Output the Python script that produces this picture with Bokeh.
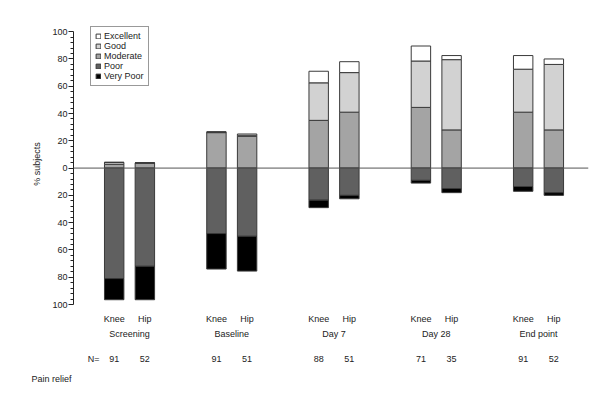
from bokeh.plotting import figure
from bokeh.models import (Range1d, FixedTicker, Span, Legend, LegendItem,
                          ColumnDataSource, LinearAxis, Title)
from bokeh.embed import file_html
from bokeh.resources import INLINE

# ---- data ----
groups = ["Screening", "Baseline", "Day 7", "Day 28", "End point"]
joints = ["Knee", "Hip"]
n_values = [91, 52, 91, 51, 88, 51, 71, 35, 91, 52]
# positive side (stacked upward): Moderate, Good, Excellent
moderate = [2.8, 3.8, 26.0, 23.3, 35.0, 41.0, 44.5, 28.0, 41.0, 28.0]
good = [1.4, 0.0, 0.5, 0.8, 27.5, 29.0, 34.0, 51.5, 31.5, 48.0]
excellent = [0.0, 0.0, 0.0, 0.9, 8.5, 8.0, 11.0, 3.0, 10.0, 4.0]
# negative side (stacked downward): Poor, Very Poor
poor = [81.0, 72.0, 48.0, 50.0, 23.5, 20.0, 9.0, 15.0, 13.5, 18.0]
very_poor = [15.5, 24.5, 26.0, 25.5, 5.5, 2.5, 2.0, 3.0, 3.5, 2.0]

FONT = "Liberation Sans"
TXT = "#222222"

# bar positions: group index +/- offset for Knee / Hip
xs = []
joint_labels = []
for gi, g in enumerate(groups):
    for ji, j in enumerate(joints):
        xs.append(gi + (-0.15 if ji == 0 else 0.15))
        joint_labels.append(j)
N_POS = -0.352

src = ColumnDataSource(dict(
    x=xs,
    moderate=moderate, good=good, excellent=excellent,
    poor=[-v for v in poor], very_poor=[-v for v in very_poor],
))

W, H = 596, 400
p = figure(width=W, height=H,
           x_range=Range1d(-0.548, 4.489), y_range=Range1d(-100, 106),
           output_backend="svg", toolbar_location=None,
           min_border_left=73, min_border_right=W - 588,
           min_border_top=23, min_border_bottom=H - 304)
p.grid.visible = False
p.outline_line_color = None
p.background_fill_color = "white"

col_exc = "#ffffff"
col_good = "#d2d2d2"
col_mod = "#a4a4a4"
col_poor = "#606060"
col_vp = "#000000"
edge = "#3a3a3a"

pos = p.vbar_stack(["moderate", "good", "excellent"], x="x", width=0.19, source=src,
                   fill_color=[col_mod, col_good, col_exc], line_color=edge, line_width=1)
neg = p.vbar_stack(["poor", "very_poor"], x="x", width=0.19, source=src,
                   fill_color=[col_poor, col_vp], line_color=edge, line_width=1)

p.add_layout(Span(location=0, dimension="width", line_color="#555555", line_width=1))

# y axis
major = list(range(-100, 101, 20))
minor = [v for v in range(-100, 101, 4) if v not in major]
p.yaxis.ticker = FixedTicker(ticks=major, minor_ticks=minor)
p.yaxis.major_label_overrides = {v: str(abs(v)) for v in major}
p.yaxis.bounds = (-100, 100)
p.yaxis.axis_line_color = TXT
p.yaxis.major_tick_line_color = TXT
p.yaxis.minor_tick_line_color = TXT
p.yaxis.major_tick_in = 0
p.yaxis.major_tick_out = 5
p.yaxis.minor_tick_in = 0
p.yaxis.minor_tick_out = 3
p.yaxis.major_label_standoff = 1
p.yaxis.major_label_text_font = FONT
p.yaxis.major_label_text_font_size = "9px"
p.yaxis.major_label_text_color = TXT
p.yaxis.axis_label = "% subjects"
p.yaxis.axis_label_text_font = FONT
p.yaxis.axis_label_text_font_size = "9px"
p.yaxis.axis_label_text_font_style = "normal"
p.yaxis.axis_label_text_color = TXT
p.yaxis.axis_label_standoff = 7


def style_text_axis(ax, standoff):
    ax.axis_line_color = None
    ax.major_tick_line_color = None
    ax.minor_tick_line_color = None
    ax.major_tick_out = 0
    ax.major_tick_in = 0
    ax.minor_tick_out = 0
    ax.minor_tick_in = 0
    ax.major_label_standoff = standoff
    ax.major_label_text_font = FONT
    ax.major_label_text_font_size = "9px"
    ax.major_label_text_color = TXT


# x axis row 1: Knee / Hip
ax1 = p.xaxis[0]
ax1.ticker = FixedTicker(ticks=xs, minor_ticks=[])
ax1.major_label_overrides = {x: j for x, j in zip(xs, joint_labels)}
style_text_axis(ax1, 9)

# row 2: time points
ax2 = LinearAxis(ticker=FixedTicker(ticks=list(range(len(groups))), minor_ticks=[]),
                 major_label_overrides={i: g for i, g in enumerate(groups)})
style_text_axis(ax2, 2)
p.add_layout(ax2, "below")

# row 3: N
ax3 = LinearAxis(ticker=FixedTicker(ticks=[N_POS] + xs, minor_ticks=[]),
                 major_label_overrides={**{N_POS: "N="}, **{x: str(n) for x, n in zip(xs, n_values)}})
style_text_axis(ax3, 12)
p.add_layout(ax3, "below")

# row 4: Pain relief
t = Title(text="Pain relief", align="left", offset=-42, standoff=10,
          text_font=FONT, text_font_size="9px", text_font_style="normal", text_color=TXT)
p.add_layout(t, "below")

legend = Legend(items=[
    LegendItem(label="Excellent", renderers=[pos[2]]),
    LegendItem(label="Good", renderers=[pos[1]]),
    LegendItem(label="Moderate", renderers=[pos[0]]),
    LegendItem(label="Poor", renderers=[neg[0]]),
    LegendItem(label="Very Poor", renderers=[neg[1]]),
], location=(17, 218))
legend.label_text_font = FONT
legend.label_text_font_size = "9px"
legend.label_text_color = TXT
legend.glyph_width = 6
legend.glyph_height = 6
legend.label_height = 9
legend.spacing = 0
legend.padding = 4
legend.margin = 0
legend.label_standoff = 3
legend.border_line_color = "#333333"
legend.border_line_width = 1
legend.background_fill_alpha = 1
p.add_layout(legend)

open("out.html", "w").write(file_html(p, INLINE))
